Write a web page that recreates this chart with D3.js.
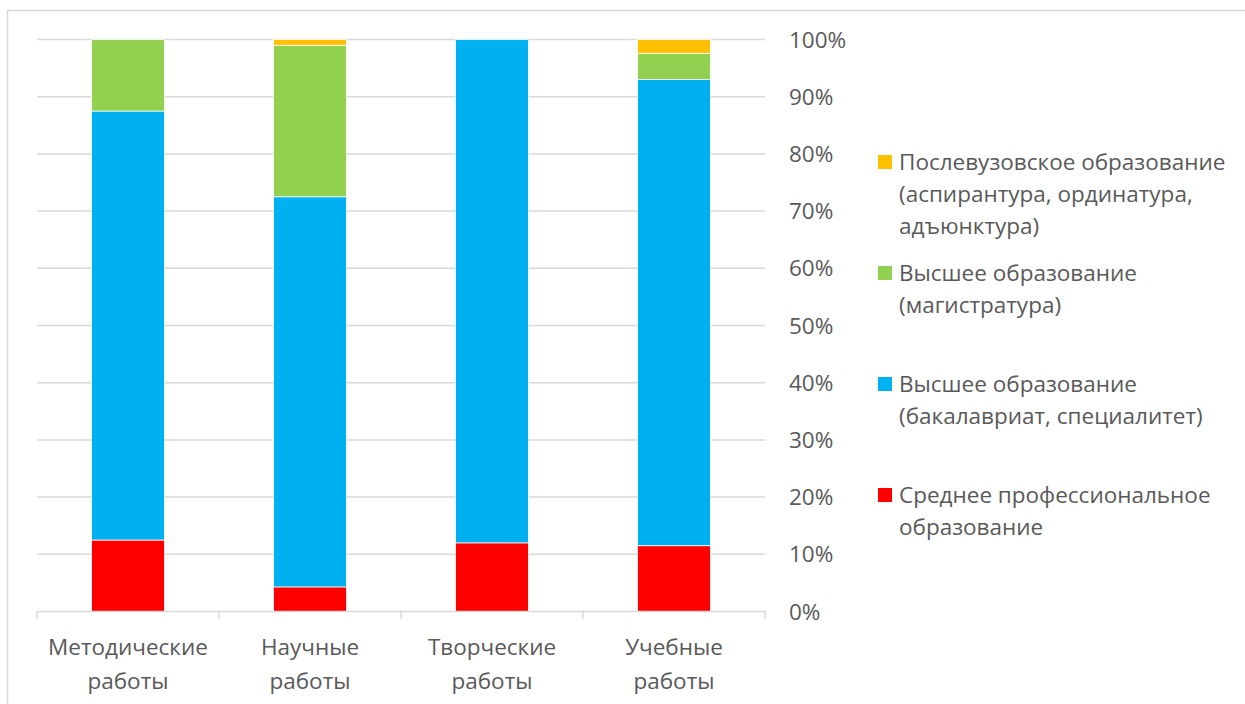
<!DOCTYPE html>
<html>
<head>
<meta charset="utf-8">
<script src="https://cdn.jsdelivr.net/npm/d3@7"></script>
<style>
  body { margin: 0; background: #fff; }
  svg text { font-family: "Open Sans", "Noto Sans", sans-serif; fill: #595959; }
</style>
</head>
<body>
<div id="chart"></div>
<script>
// категории и серии (доли в %)
const categories = ["Методические работы", "Научные работы", "Творческие работы", "Учебные работы"];
const catLines = [["Методические", "работы"], ["Научные", "работы"], ["Творческие", "работы"], ["Учебные", "работы"]];
const seriesNames = [
  "Среднее профессиональное образование",
  "Высшее образование (бакалавриат, специалитет)",
  "Высшее образование (магистратура)",
  "Послевузовское образование (аспирантура, ординатура, адъюнктура)"
];
const spo      = [12.5, 4.3, 12.0, 11.5];
const bakalavr = [75.0, 68.2, 88.0, 81.5];
const magistr  = [12.5, 26.5, 0, 4.6];
const aspirant = [0, 1.0, 0, 2.4];
const colors = ["#ff0000", "#00b0f0", "#92d050", "#ffc000"];
const tickValues = [0, 10, 20, 30, 40, 50, 60, 70, 80, 90, 100];
const legendLines = [
  ["Послевузовское образование", "(аспирантура, ординатура,", "адъюнктура)"],
  ["Высшее образование", "(магистратура)"],
  ["Высшее образование", "(бакалавриат, специалитет)"],
  ["Среднее профессиональное", "образование"]
];

const W = 1245, H = 704;
const FS = 22.5;
const svg = d3.select("#chart").append("svg").attr("width", W).attr("height", H);

// рамка области диаграммы
svg.append("rect").attr("x", 7.5).attr("y", 10.5).attr("width", W + 20).attr("height", H + 20)
  .attr("fill", "none").attr("stroke", "#d9d9d9").attr("stroke-width", 1.5);

const x = d3.scaleBand().domain(categories).range([37, 765]).paddingInner(0.6).paddingOuter(0.3);
const y = d3.scaleLinear().domain([0, 100]).range([611.5, 39.5]);

// сетка
svg.append("g").selectAll("line").data(tickValues.filter(d => d > 0)).join("line")
  .attr("x1", 37).attr("x2", 765)
  .attr("y1", d => y(d)).attr("y2", d => y(d))
  .attr("stroke", "#d9d9d9").attr("stroke-width", 1.5);

// подписи оси Y справа
svg.append("g").selectAll("text").data(tickValues).join("text")
  .attr("x", 789).attr("y", d => y(d)).attr("dy", "0.36em")
  .attr("font-size", FS).text(d => d + "%");

// стопки
const rows = categories.map((c, i) => ({ cat: c, s0: spo[i], s1: bakalavr[i], s2: magistr[i], s3: aspirant[i] }));
const stack = d3.stack().keys(["s0", "s1", "s2", "s3"]);
const layers = stack(rows);

svg.append("g").selectAll("g").data(layers).join("g")
  .attr("fill", (d, i) => colors[i])
  .selectAll("rect").data(d => d.filter(p => p[1] - p[0] > 0)).join("rect")
  .attr("x", d => x(d.data.cat))
  .attr("width", x.bandwidth())
  .attr("y", d => y(d[1]))
  .attr("height", d => y(d[0]) - y(d[1]))
  .attr("stroke", "#fff").attr("stroke-width", 0.75);

// ось X
const xAxis = svg.append("g");
xAxis.append("line").attr("x1", 37).attr("x2", 765).attr("y1", 611.5).attr("y2", 611.5)
  .attr("stroke", "#d9d9d9").attr("stroke-width", 1.5);
const step = (765 - 37) / categories.length;
xAxis.selectAll("line.tick").data(d3.range(categories.length + 1)).join("line")
  .attr("class", "tick")
  .attr("x1", i => 37 + i * step).attr("x2", i => 37 + i * step)
  .attr("y1", 611.5).attr("y2", 619)
  .attr("stroke", "#d9d9d9").attr("stroke-width", 1.5);

const catText = svg.append("g").selectAll("text").data(categories).join("text")
  .attr("x", d => x(d) + x.bandwidth() / 2)
  .attr("y", 647).attr("text-anchor", "middle").attr("font-size", FS);
catText.selectAll("tspan").data((d, i) => catLines[i]).join("tspan")
  .attr("x", function () { return this.parentNode.getAttribute("x"); })
  .attr("y", (d, j) => 647 + j * 34).attr("dy", "0.36em")
  .text(d => d);

// легенда
const legendTop = [162, 273, 384, 495];
const legColors = [colors[3], colors[2], colors[1], colors[0]];
const leg = svg.append("g").selectAll("g").data(legendLines).join("g")
  .attr("transform", (d, i) => `translate(878,${legendTop[i]})`);
leg.append("rect").attr("x", 0).attr("y", -7).attr("width", 14).attr("height", 14)
  .attr("fill", (d, i) => legColors[i]);
leg.append("text").attr("x", 21).attr("y", 0).attr("font-size", FS)
  .selectAll("tspan").data(d => d).join("tspan")
  .attr("x", 21).attr("y", (d, j) => j * 32).attr("dy", "0.36em")
  .text(d => d);
</script>
</body>
</html>
